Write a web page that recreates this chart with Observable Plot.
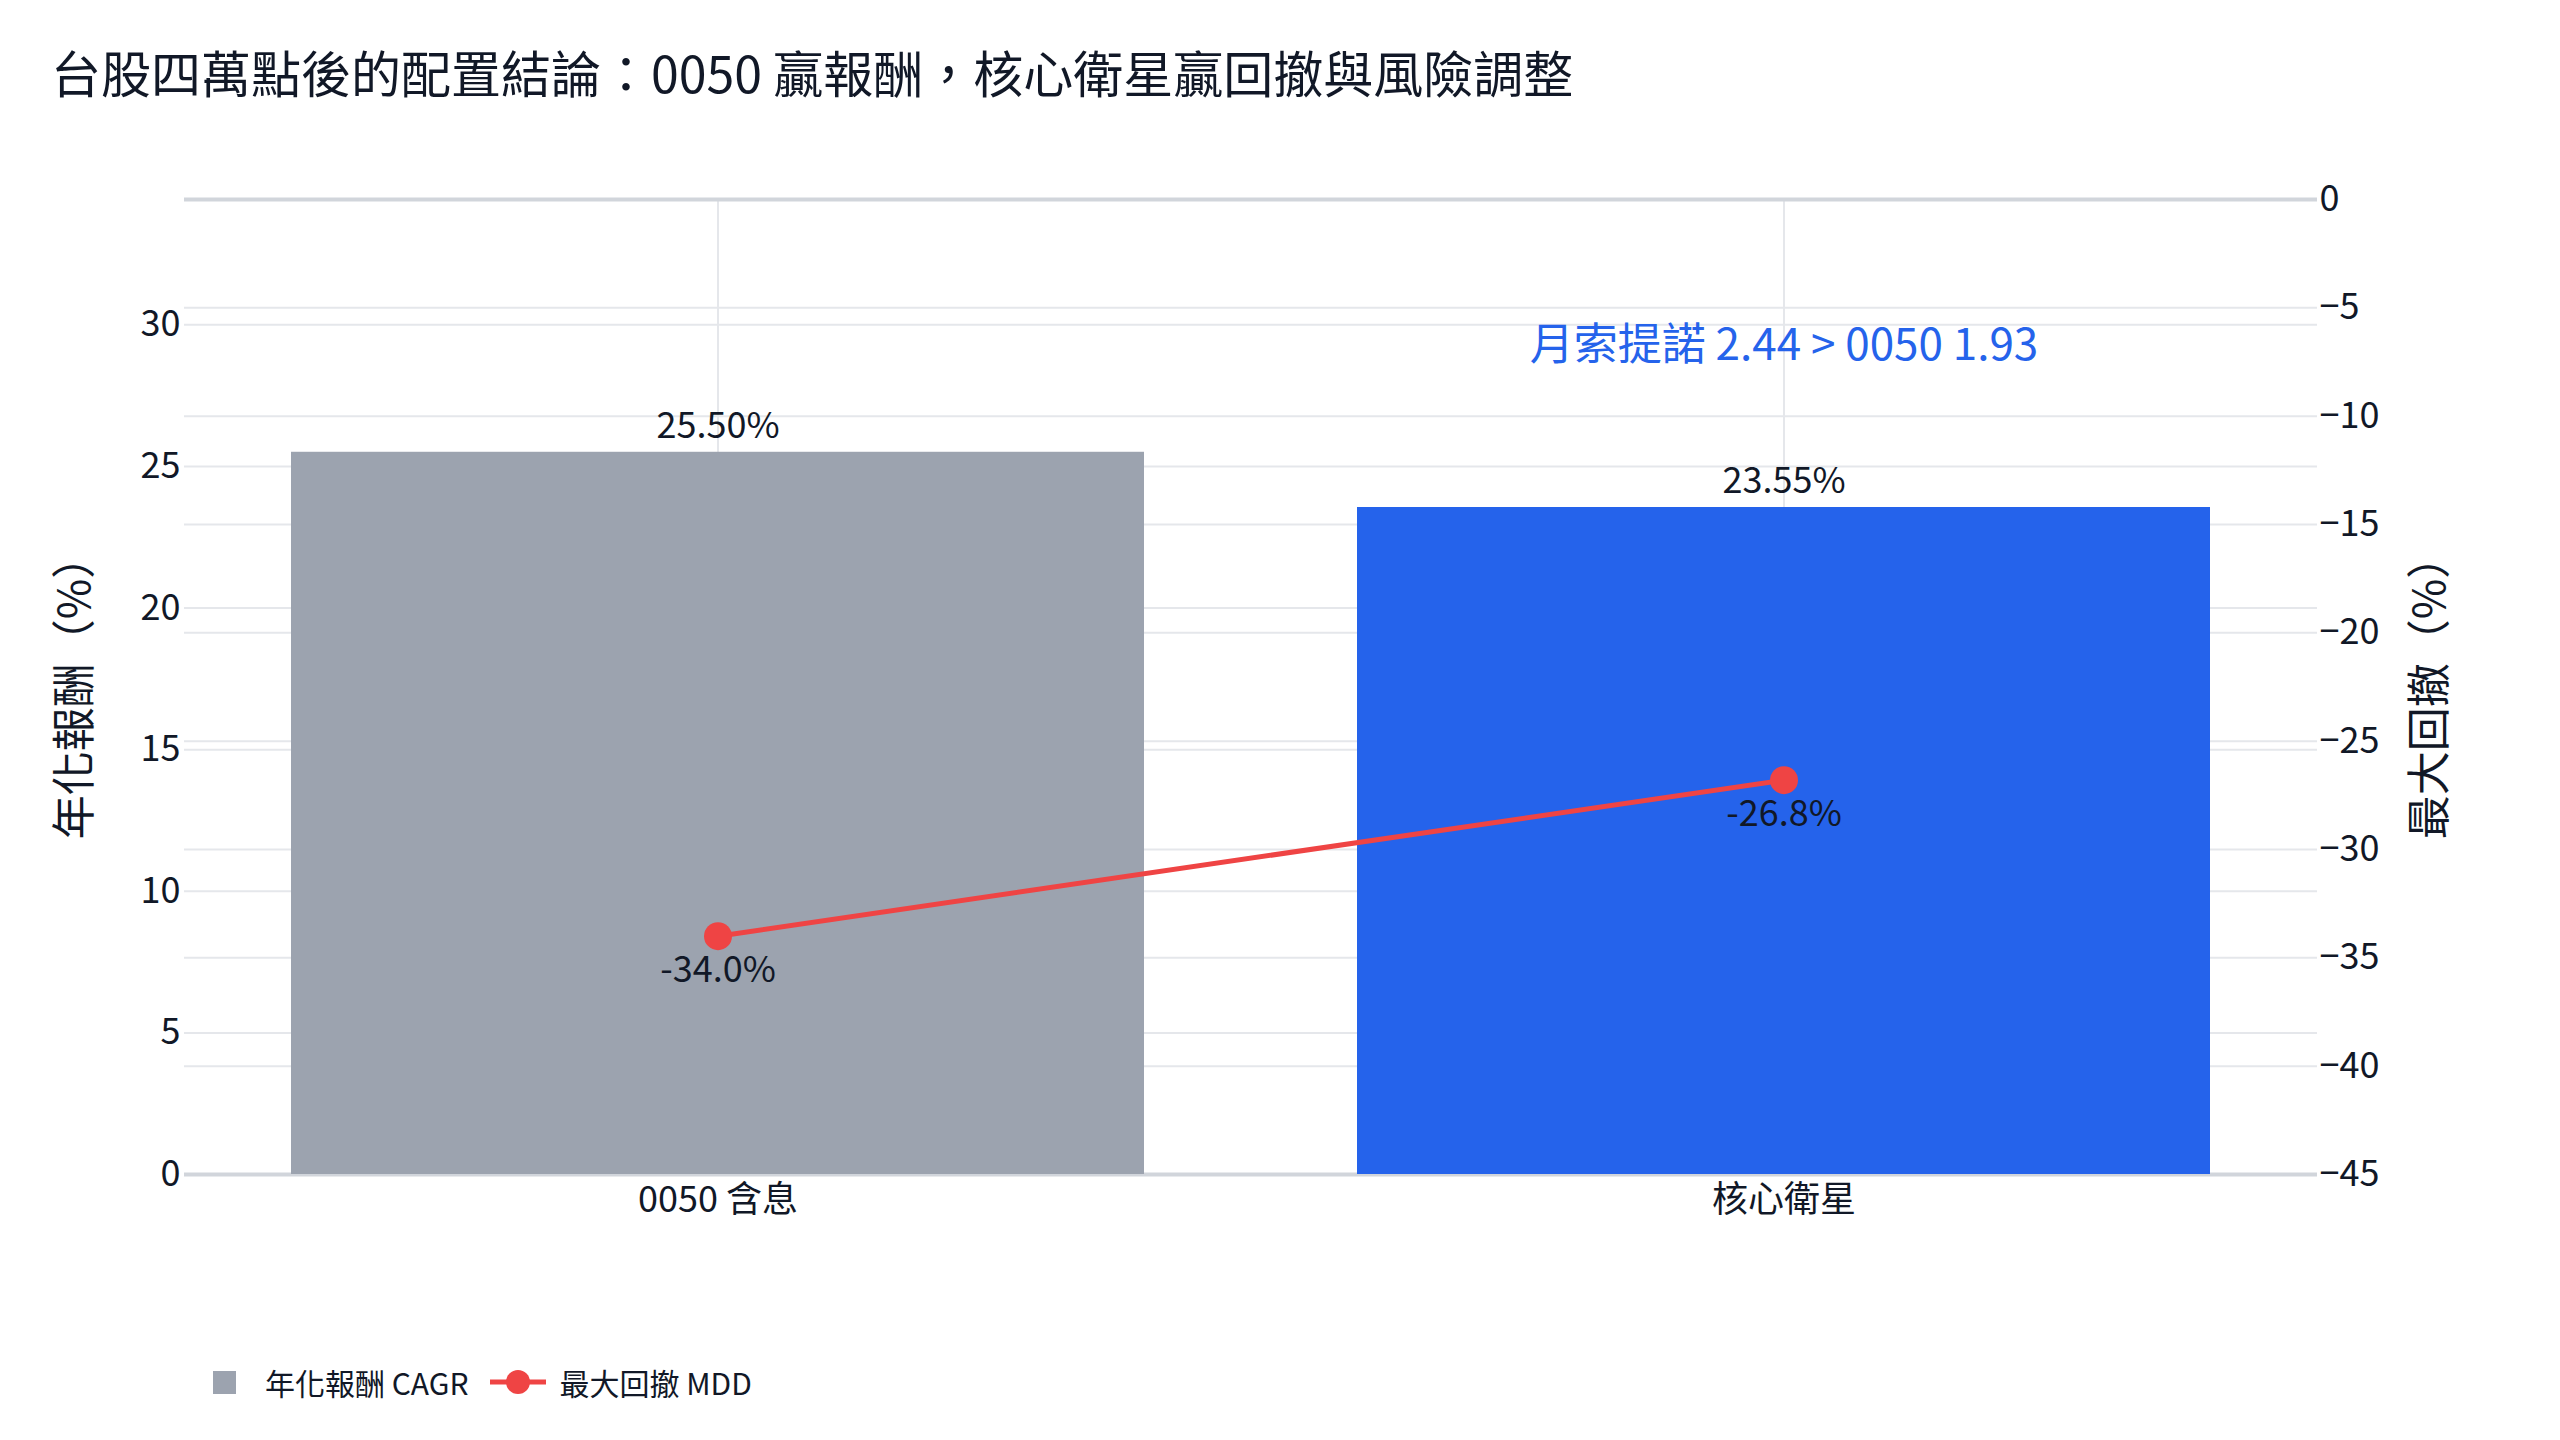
<!DOCTYPE html>
<html><head><meta charset="utf-8">
<script src="https://cdn.jsdelivr.net/npm/d3@7"></script>
<script src="https://cdn.jsdelivr.net/npm/@observablehq/plot@0.6"></script>
<style>
html,body{margin:0;padding:0;background:#fff;}
body{width:2560px;height:1440px;position:relative;overflow:hidden;font-family:"Noto Sans CJK TC","Noto Sans",sans-serif;color:#111827;}
#title{position:absolute;left:51px;top:43px;font-size:50px;line-height:56px;white-space:nowrap;}
#chart{position:absolute;left:0;top:0;}
#legend{position:absolute;left:213px;top:1358px;height:48px;display:flex;align-items:center;font-size:30px;white-space:nowrap;}
</style></head><body>
<div id="title"></div>
<div id="chart"></div>
<div id="legend"></div>
<script>
const titleText = "台股四萬點後的配置結論：0050 贏報酬，核心衛星贏回撤與風險調整";
const categories = ["0050 含息", "核心衛星"];
const cagrValues = [25.50, 23.55];
const mddValues = [-34.0, -26.8];
const barColors = ["#9CA3AF", "#2563EB"];
const lineColor = "#EF4444";
const leftTicks = [0, 5, 10, 15, 20, 25, 30];
const rightTicks = [0, -5, -10, -15, -20, -25, -30, -35, -40, -45];
const leftTitle = "年化報酬（%）";
const rightTitle = "最大回撤（%）";
const seriesNames = ["年化報酬 CAGR", "最大回撤 MDD"];
const noteText = "月索提諾 2.44 > 0050 1.93";

document.getElementById("title").textContent = titleText;

const data = categories.map((c, i) => ({cat: c, cagr: cagrValues[i], mdd: mddValues[i]}));
const yMax = d3.max(cagrValues) * 1.35;
const mddToY = d3.scaleLinear().domain([d3.min(rightTicks), d3.max(rightTicks)]).range([0, yMax]);
const textColor = "#111827";

const W = 2560, H = 1300;
const chart = Plot.plot({
  width: W, height: H,
  marginTop: 199, marginBottom: H - 1174, marginLeft: 184, marginRight: W - 2317,
  style: {fontFamily: '"Noto Sans CJK TC", "Noto Sans", sans-serif', color: textColor, background: "transparent", overflow: "visible"},
  x: {domain: categories, paddingInner: 0.2, paddingOuter: 0.1, label: null},
  y: {domain: [0, yMax], label: null},
  color: {domain: categories, range: barColors},
  marks: [
    Plot.ruleX(categories, {x: d => d, stroke: "#e5e7eb", strokeWidth: 2}),
    Plot.ruleY(leftTicks.filter(t => t !== 0), {y: d => d, stroke: "#e5e7eb", strokeWidth: 2}),
    Plot.ruleY(rightTicks.filter(t => t !== 0), {y: d => mddToY(d), stroke: "#e5e7eb", strokeWidth: 2}),
    Plot.ruleY([0], {y: d => d, stroke: "#d1d5db", strokeWidth: 4}),
    Plot.ruleY([0], {y: d => mddToY(d), stroke: "#d1d5db", strokeWidth: 4}),
    Plot.barY(data, {x: "cat", y: "cagr", fill: "cat"}),
    Plot.text(data, {x: "cat", y: "cagr", text: d => d.cagr.toFixed(2) + "%", dy: -26, fontSize: 36, fill: textColor}),
    Plot.line(data, {x: "cat", y: d => mddToY(d.mdd), stroke: lineColor, strokeWidth: 5}),
    Plot.dot(data, {x: "cat", y: d => mddToY(d.mdd), r: 14, fill: lineColor}),
    Plot.text(data, {x: "cat", y: d => mddToY(d.mdd), text: d => d.mdd.toFixed(1) + "%", dy: 34, fontSize: 36, fill: textColor}),
    Plot.text([noteText], {x: () => categories[1], y: () => mddToY(-6.75), text: d => d, fontSize: 44, fill: barColors[1]}),
    Plot.axisY(leftTicks, {anchor: "left", tickSize: 0, tickPadding: 4, fontSize: 36, label: null}),
    Plot.axisY(rightTicks.map(mddToY), {anchor: "right", tickSize: 0, tickPadding: 2, fontSize: 36, label: null,
      tickFormat: v => d3.format("d")(Math.round(mddToY.invert(v)))}),
    Plot.axisX({anchor: "bottom", tickSize: 0, tickPadding: 12, fontSize: 36, label: null}),
    Plot.text([leftTitle], {frameAnchor: "left", dx: -109, rotate: -90, textAnchor: "middle", fontSize: 44, text: d => d, fill: textColor}),
    Plot.text([rightTitle], {frameAnchor: "right", dx: 113, rotate: -90, textAnchor: "middle", fontSize: 44, text: d => d, fill: textColor})
  ]
});
document.getElementById("chart").appendChild(chart);

const legend = document.getElementById("legend");
legend.innerHTML =
  `<span style="display:inline-block;width:23px;height:23px;background:${barColors[0]}"></span>` +
  `<span style="margin-left:29px">${seriesNames[0]}</span>` +
  `<svg width="56" height="30" style="margin-left:21px"><line x1="0" x2="56" y1="15" y2="15" stroke="${lineColor}" stroke-width="5"/><circle cx="28" cy="15" r="12" fill="${lineColor}"/></svg>` +
  `<span style="margin-left:14px">${seriesNames[1]}</span>`;
</script>
</body></html>
